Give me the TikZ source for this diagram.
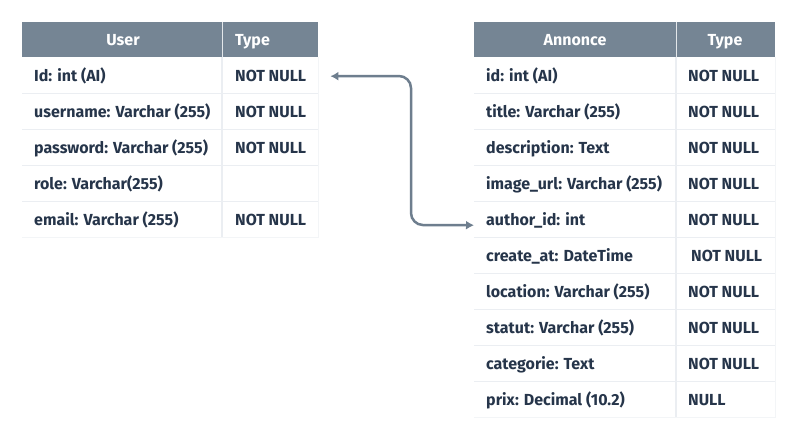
\documentclass[tikz,border=0pt]{standalone}
\usepackage{fontspec}
\setmainfont{Fira Sans}
\usetikzlibrary{arrows.meta}
\definecolor{hdr}{HTML}{758594}
\definecolor{txt}{HTML}{26354A}
\definecolor{sep}{HTML}{EBEEF2}
\definecolor{arr}{HTML}{6E7E8E}
\tikzset{
  hdrbox/.style={fill=hdr, draw=none, minimum height=35pt, inner sep=0pt, anchor=north west},
  rowbox/.style={fill=white, draw=none, minimum height=36pt, inner sep=0pt, anchor=north west},
  hdrtxt/.style={text=white, font=\bfseries\fontsize{16}{18}\selectfont, inner sep=0pt, anchor=base},
  celltxt/.style={text=txt, font=\bfseries\fontsize{16}{18}\selectfont, inner sep=0pt, anchor=base west},
  sepline/.style={draw=sep, line width=1.5pt},
  frameline/.style={draw=sep!60, line width=0.8pt},
  link/.style={draw=arr, line width=2.5pt, rounded corners=12pt, {Latex[length=8pt,width=9pt]}-{Latex[length=8pt,width=9pt]}}
}
\begin{document}
\begin{tikzpicture}[x=1pt,y=-1pt]
\useasboundingbox (0,0) rectangle (797,438);
\fill[white] (0,0) rectangle (797,438);
% ---------------- User table ----------------
\draw[frameline] (22,57) rectangle (318,237);
\node[hdrbox, minimum width=296pt] (uh) at (22,22) {};
\draw[white!80!hdr, line width=1pt] (222,22) -- (222,57);
\node[hdrtxt] (uhn) at (123,46) {User};
\node[hdrtxt, anchor=base west] (uht) at (235,46) {Type};
\foreach \i/\n/\t in {1/Id: int (AI)/NOT NULL, 2/username: Varchar (255)/NOT NULL, 3/password: Varchar (255)/NOT NULL, 4/role: Varchar(255)/, 5/email: Varchar (255)/NOT NULL}{
  \node[rowbox, minimum width=296pt] (ur\i) at (22,{57+(\i-1)*36}) {};
  \node[celltxt] (un\i) at (34,{81.5+(\i-1)*36}) {\n};
  \node[celltxt] (ut\i) at (235,{81.5+(\i-1)*36}) {\t};
}
\foreach \i in {1,...,4}{ \draw[sepline] (ur\i.south west) -- (ur\i.south east); }
\draw[sepline] (222,57) -- (222,237);
% ---------------- Annonce table ----------------
\draw[frameline] (474,57) rectangle (775,417);
\node[hdrbox, minimum width=301pt] (ah) at (474,22) {};
\draw[white!80!hdr, line width=1pt] (676,22) -- (676,57);
\node[hdrtxt] (ahn) at (575,46) {Annonce};
\node[hdrtxt] (aht) at (725,46) {Type};
\foreach \i/\n/\t in {1/id: int (AI)/NOT NULL, 2/title: Varchar (255)/NOT NULL, 3/description: Text/NOT NULL, 4/image\_url: Varchar (255)/NOT NULL, 5/author\_id: int/NOT NULL, 6/create\_at: DateTime/\hspace{3pt}NOT NULL, 7/location: Varchar (255)/NOT NULL, 8/statut: Varchar (255)/NOT NULL, 9/categorie: Text/NOT NULL, 10/prix: Decimal (10.2)/NULL}{
  \node[rowbox, minimum width=301pt] (ar\i) at (474,{57+(\i-1)*36}) {};
  \node[celltxt] (an\i) at (486,{81.5+(\i-1)*36}) {\n};
  \node[celltxt] (at\i) at (688,{81.5+(\i-1)*36}) {\t};
}
\foreach \i in {1,...,9}{ \draw[sepline] (ar\i.south west) -- (ar\i.south east); }
\draw[sepline] (676,57) -- (676,417);
% ---------------- link ----------------
\coordinate (lk1) at ([xshift=12pt,yshift=-1pt]ur1.east);
\coordinate (lk2) at ([yshift=-6pt]ar5.west);
\draw[link] (lk1) -- (411,76) -- (411,225) -- (lk2);
\end{tikzpicture}
\end{document}
